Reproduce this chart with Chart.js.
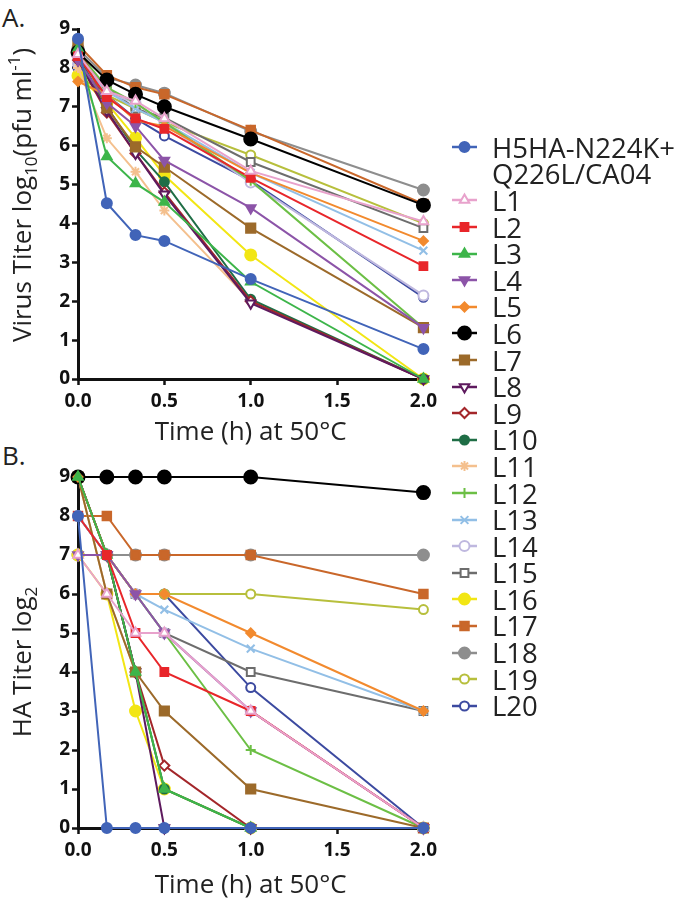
<!DOCTYPE html>
<html>
<head>
<meta charset="utf-8">
<script src="https://cdn.jsdelivr.net/npm/chart.js@4.4.1/dist/chart.umd.min.js"></script>
<style>
  html, body { margin: 0; padding: 0; background: #fff; }
  body { width: 680px; height: 902px; position: relative; overflow: hidden; font-family: "Open Sans", sans-serif; color: #222; }
  #wrapA { position: absolute; left: 0; top: 0; }
  #wrapB { position: absolute; left: 0; top: 440px; }
  .panel { position: absolute; left: 2px; font-size: 26px; line-height: 30px; }
  #legend { position: absolute; left: 450px; top: 134px; }
  #legend .row { height: 26.6px; display: flex; align-items: center; font-size: 27.5px; white-space: nowrap; }
  #legend canvas { margin-right: 12px; flex: none; }
</style>
</head>
<body>
<div class="panel" style="top:2px">A.</div>
<div class="panel" style="top:440px">B.</div>
<div id="wrapA"><canvas id="chartA" width="442" height="460"></canvas></div>
<div id="wrapB"><canvas id="chartB" width="442" height="462"></canvas></div>
<div id="legend"></div>

<script>
// time points (h)
const times = [0, 0.167, 0.333, 0.5, 1, 2];
const seriesNames = ['H5HA-N224K+Q226L/CA04', 'L1', 'L2', 'L3', 'L4', 'L5', 'L6', 'L7', 'L8', 'L9', 'L10',
  'L11', 'L12', 'L13', 'L14', 'L15', 'L16', 'L17', 'L18', 'L19', 'L20'];
const xTicks = [0, 0.5, 1, 1.5, 2];

// A. virus titer, log10(pfu/ml)
const vtH5  = [8.75, 4.52, 3.70, 3.55, 2.57, 0.77];
const vtL1  = [8.35, 7.40, 7.15, 6.70, 5.35, 4.05];
const vtL2  = [8.30, 7.25, 6.70, 6.43, 5.17, 2.90];
const vtL3  = [8.50, 5.72, 5.03, 4.55, 2.50, 0.00];
const vtL4  = [8.20, 7.10, 6.50, 5.62, 4.40, 1.32];
const vtL5  = [7.65, 7.30, 6.65, 6.50, 5.30, 3.55];
const vtL6  = [8.40, 7.69, 7.32, 7.00, 6.17, 4.47];
const vtL7  = [8.60, 6.97, 5.97, 5.45, 3.88, 1.32];
const vtL8  = [8.20, 6.90, 5.80, 4.75, 1.95, 0.00];
const vtL9  = [8.20, 6.85, 5.80, 4.80, 2.00, 0.00];
const vtL10 = [8.30, 7.00, 5.90, 5.07, 2.05, 0.00];
const vtL11 = [8.00, 6.19, 5.33, 4.33, 2.00, 0.00];
const vtL12 = [8.40, 7.50, 7.10, 6.60, 5.10, 1.32];
const vtL13 = [8.20, 7.40, 6.95, 6.60, 5.30, 3.30];
const vtL14 = [8.10, 7.35, 7.10, 6.55, 5.05, 2.15];
const vtL15 = [8.30, 7.50, 6.95, 6.72, 5.58, 3.88];
const vtL16 = [7.80, 7.10, 6.20, 5.24, 3.19, 0.00];
const vtL17 = [8.60, 7.81, 7.50, 7.32, 6.40, 4.50];
const vtL18 = [8.50, 7.75, 7.56, 7.35, 6.37, 4.86];
const vtL19 = [7.80, 7.30, 6.95, 6.60, 5.76, 4.00];
const vtL20 = [8.00, 7.30, 6.70, 6.25, 5.10, 2.10];

// B. HA titer, log2
const haH5  = [8, 0, 0, 0, 0, 0];
const haL1  = [7, 6, 5, 5, 3, 0];
const haL2  = [8, 7, 5, 4, 3, 0];
const haL3  = [9, 7, 4, 1, 0, 0];
const haL4  = [7, 7, 6, 5, 3, 0];
const haL5  = [9, 7, 6, 6, 5, 3];
const haL6  = [9, 9, 9, 9, 9, 8.6];
const haL7  = [9, 6, 4, 3, 1, 0];
const haL8  = [9, 7, 4, 0, 0, 0];
const haL9  = [9, 7, 4, 1.6, 0, 0];
const haL10 = [9, 7, 4, 1, 0, 0];
const haL11 = [9, 6, 4, 1, 0, 0];
const haL12 = [9, 7, 6, 5, 2, 0];
const haL13 = [8, 7, 6, 5.6, 4.6, 3];
const haL14 = [8, 7, 6, 5, 3, 0];
const haL15 = [8, 7, 6, 5, 4, 3];
const haL16 = [7, 6, 3, 1, 0, 0];
const haL17 = [8, 8, 7, 7, 7, 6];
const haL18 = [7, 7, 7, 7, 7, 7];
const haL19 = [7, 7, 6, 6, 6, 5.6];
const haL20 = [8, 7, 6, 6, 3.6, 0];

const virusTiter = [vtH5, vtL1, vtL2, vtL3, vtL4, vtL5, vtL6, vtL7, vtL8, vtL9, vtL10,
  vtL11, vtL12, vtL13, vtL14, vtL15, vtL16, vtL17, vtL18, vtL19, vtL20];
const haTiter = [haH5, haL1, haL2, haL3, haL4, haL5, haL6, haL7, haL8, haL9, haL10,
  haL11, haL12, haL13, haL14, haL15, haL16, haL17, haL18, haL19, haL20];

// styles
const colors = ['#4164b8', '#e8a2cc', '#e8262a', '#3db54a', '#8c54a8', '#f28a2e', '#000000', '#9c6a2a',
  '#5e1a5e', '#a3262a', '#1f6e46', '#f4c08e', '#6cbf45', '#92bfe6', '#bfb8df', '#6d6d6d',
  '#f2e614', '#c9672a', '#8e8e8e', '#b7bf3c', '#3c4aa0'];
// [pointStyle, rotation, open, radius]
const markers = [
  ['circle', 0, false, 5], ['triangle', 0, true, 5.5], ['rect', 0, false, 5.5], ['triangle', 0, false, 5.5],
  ['triangle', 180, false, 5.5], ['rectRot', 0, false, 4.5], ['circle', 0, false, 6.5], ['rect', 0, false, 6.5],
  ['triangle', 180, true, 5.5], ['rectRot', 0, true, 5], ['circle', 0, false, 4.5], ['star', 0, false, 5],
  ['cross', 0, false, 5], ['crossRot', 0, false, 5.5], ['circle', 0, true, 5], ['rect', 0, true, 5.5],
  ['circle', 0, false, 5.5], ['rect', 0, false, 6], ['circle', 0, false, 5.5], ['circle', 0, true, 4.5],
  ['circle', 0, true, 4.5]
];

const FONT = '"Open Sans", sans-serif';

function makeDatasets(rows) {
  return rows.map((vals, i) => {
    const [ps, rot, open, r] = markers[i];
    return {
      label: seriesNames[i],
      data: times.map((t, k) => ({ x: t, y: vals[k] })),
      borderColor: colors[i],
      backgroundColor: open ? '#ffffff' : colors[i],
      pointBorderColor: colors[i],
      pointBackgroundColor: open ? '#ffffff' : colors[i],
      borderWidth: 2,
      pointStyle: ps,
      pointRotation: rot,
      pointRadius: r,
      pointBorderWidth: 2,
      tension: 0,
      clip: false
    };
  });
}

// rotated y-axis title with sub/superscripts
const yTitlePlugin = {
  id: 'yTitle',
  afterDraw(chart, args, opts) {
    const ctx = chart.ctx;
    ctx.save();
    ctx.translate(opts.x, opts.y);
    ctx.rotate(-Math.PI / 2);
    let total = 0;
    const parts = opts.parts.map(p => {
      const size = (p.sub || p.sup) ? 17 : 26;
      ctx.font = size + 'px ' + FONT;
      const w = ctx.measureText(p.t).width;
      total += w;
      return Object.assign({ size, w }, p);
    });
    let x = -total / 2;
    ctx.fillStyle = '#222';
    ctx.textBaseline = 'alphabetic';
    parts.forEach(p => {
      ctx.font = p.size + 'px ' + FONT;
      const dy = p.sub ? 6 : (p.sup ? -11 : 0);
      ctx.fillText(p.t, x, 9 + dy);
      x += p.w;
    });
    ctx.restore();
  }
};

function makeOptions(padTop, xHeight, titlePadBottom, yTitle) {
  const axisColor = '#111';
  return {
    responsive: false,
    animation: false,
    events: [],
    layout: { padding: { left: 0, right: 15, top: padTop, bottom: 0 } },
    plugins: { legend: { display: false }, tooltip: { enabled: false }, yTitle: yTitle },
    scales: {
      x: {
        type: 'linear', min: 0, max: 2,
        afterFit: s => { s.height = xHeight; },
        afterBuildTicks: s => { s.ticks = xTicks.map(v => ({ value: v })); },
        ticks: { callback: v => v.toFixed(1), font: { family: FONT, size: 19, weight: 'bold' }, color: axisColor, padding: 5, maxRotation: 0 },
        grid: { drawOnChartArea: false, tickLength: 6, tickWidth: 2.5, tickColor: axisColor },
        border: { color: axisColor, width: 3 },
        title: { display: true, text: 'Time (h) at 50\u00B0C', font: { family: FONT, size: 26 }, color: '#222', padding: { top: 0, bottom: titlePadBottom } }
      },
      y: {
        min: 0, max: 9,
        afterFit: s => { s.width = 78; },
        ticks: { stepSize: 1, font: { family: FONT, size: 19, weight: 'bold' }, color: axisColor, padding: 2 },
        grid: { drawOnChartArea: false, tickLength: 6, tickWidth: 2.5, tickColor: axisColor },
        border: { color: axisColor, width: 3 }
      }
    }
  };
}

new Chart(document.getElementById('chartA'), {
  type: 'line',
  data: { datasets: makeDatasets(virusTiter) },
  options: makeOptions(29, 81, 12, {
    x: 22, y: 195,
    parts: [{ t: 'Virus Titer log' }, { t: '10', sub: true }, { t: '(pfu ml' }, { t: '-1', sup: true }, { t: ')' }]
  }),
  plugins: [yTitlePlugin]
});

new Chart(document.getElementById('chartB'), {
  type: 'line',
  data: { datasets: makeDatasets(haTiter) },
  options: makeOptions(37, 74, 1, {
    x: 22, y: 222,
    parts: [{ t: 'HA Titer log' }, { t: '2', sub: true }]
  }),
  plugins: [yTitlePlugin]
});

// legend: line with marker, then label
const legend = document.getElementById('legend');
const legendRows = [['H5HA-N224K+', 0], ['Q226L/CA04', -1]];
for (let i = 1; i < seriesNames.length; i++) legendRows.push([seriesNames[i], i]);
legendRows.forEach(([text, idx]) => {
  const row = document.createElement('div');
  row.className = 'row';
  const cv = document.createElement('canvas');
  cv.width = 30; cv.height = 26;
  if (idx >= 0) {
    const ctx = cv.getContext('2d');
    const [ps, rot, open, r] = markers[idx];
    ctx.strokeStyle = colors[idx];
    ctx.lineWidth = 2.5;
    ctx.beginPath(); ctx.moveTo(2, 13); ctx.lineTo(27, 13); ctx.stroke();
    ctx.fillStyle = open ? '#ffffff' : colors[idx];
    ctx.lineWidth = 2;
    Chart.helpers.drawPoint(ctx, { pointStyle: ps, rotation: rot, radius: r, borderWidth: 2 }, 14.5, 13);
  }
  const span = document.createElement('span');
  span.textContent = text;
  row.appendChild(cv);
  row.appendChild(span);
  legend.appendChild(row);
});
</script>
</body>
</html>
